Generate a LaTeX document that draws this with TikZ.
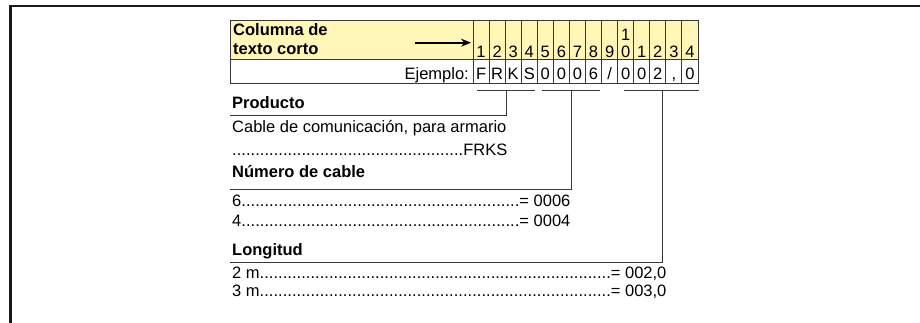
\documentclass[tikz,border=0pt]{standalone}
\usepackage{fontspec}
\setmainfont{Liberation Sans}
\usetikzlibrary{positioning,arrows.meta}
\definecolor{hdryellow}{RGB}{255,246,184}
\definecolor{linegray}{RGB}{55,55,55}
\newcommand{\dotlead}{\xleaders\hbox{.}\hfill}
\tikzset{x=1pt,y=-1pt,
every node/.style={inner sep=0pt,font=\fontsize{16.5}{19}\selectfont},
txt/.style={anchor=base west},
bold/.style={anchor=base west,font=\fontsize{16.5}{19}\selectfont\bfseries},
digit/.style={anchor=base},
tbl/.style={draw=linegray,line width=0.9pt},
brk/.style={draw=linegray,line width=0.9pt},
frame/.style={draw=black!90,line width=2.6pt},
}

\begin{document}
\begin{tikzpicture}
	\useasboundingbox (0,0) rectangle (920,323);
	\draw[frame] (10.3,330) -- (10.3,6.2) -- (930,6.2);

	% table
	\fill[hdryellow] (230,20) rectangle (698,59.5);
	\draw[tbl] (230,20) rectangle (698,83);
	\draw[tbl] (230,59.5) -- (698,59.5);
	\foreach \i in {0,...,13}
		\draw[tbl] ({473+\i*16.07},20) -- ++(0,63);

	\node[bold] (col) at (233,35.7) {Columna de};
	\node[bold] (tc) at (233,54.3) {texto corto};
	\node[anchor=base east] (ej) at (469,80) {Ejemplo:};

	\foreach \d/\c [count=\i] in {1/F,2/R,3/K,4/S,5/0,6/0,7/0,8/6,9/\slash,0/0,1/0,2/2,3/{,},4/0}{
		\node[digit] (h\i) at ({473+(\i-0.5)*16.07},57.7) {\d};
		\node[digit] (e\i) at ({473+(\i-0.5)*16.07},80) {\c};
	}
	\node[digit] (h10top) at ({473+9.5*16.07},41) {1};

	\coordinate (arrS) at (415,42.7);
	\coordinate (arrE) at (471,42.7);
	\draw[-{Stealth[length=10pt,width=8pt]},line width=1.8pt] (arrS) -- (arrE);

	% brackets
	\coordinate (b1l) at (477,90);
	\coordinate (b1r) at (535,90);
	\coordinate (b1m) at (506,90);
	\coordinate (b2l) at (542,90);
	\coordinate (b2r) at (600,90);
	\coordinate (b2m) at (571.5,90);
	\coordinate (b3l) at (624,90);
	\coordinate (b3r) at (699,90);
	\coordinate (b3m) at (662.5,90);
	\coordinate (ul1) at (230,115);
	\coordinate (ul2) at (230,189);
	\coordinate (ul3) at (230,262);

	\draw[brk] (b1l) -- (b1r);
	\draw[brk] (b2l) -- (b2r);
	\draw[brk] (b3l) -- (b3r);
	\draw[brk] (b1m) |- (ul1);
	\draw[brk] (b2m) |- (ul2);
	\draw[brk] (b3m) |- (ul3);

	% texts
	\node[bold] (prod) at (232,109) {Producto};
	\node[txt] (prodtxt) at (232,133) {Cable de comunicación, para armario};
	\node[txt] (prodval) at (232,155.7) {\makebox[275pt][l]{\dotlead FRKS}};
	\node[bold] (ncab) at (232,177.5) {Número de cable};
	\node[txt] (n6) at (232,206.7) {\makebox[338pt][l]{6\dotlead= 0006}};
	\node[txt] (n4) at (232,226) {\makebox[338pt][l]{4\dotlead= 0004}};
	\node[bold] (long) at (232,255) {Longitud};
	\node[txt] (l2) at (232,278) {\makebox[434pt][l]{2 m\dotlead= 002,0}};
	\node[txt] (l3) at (232,296.7) {\makebox[434pt][l]{3 m\dotlead= 003,0}};
\end{tikzpicture}
\end{document}
